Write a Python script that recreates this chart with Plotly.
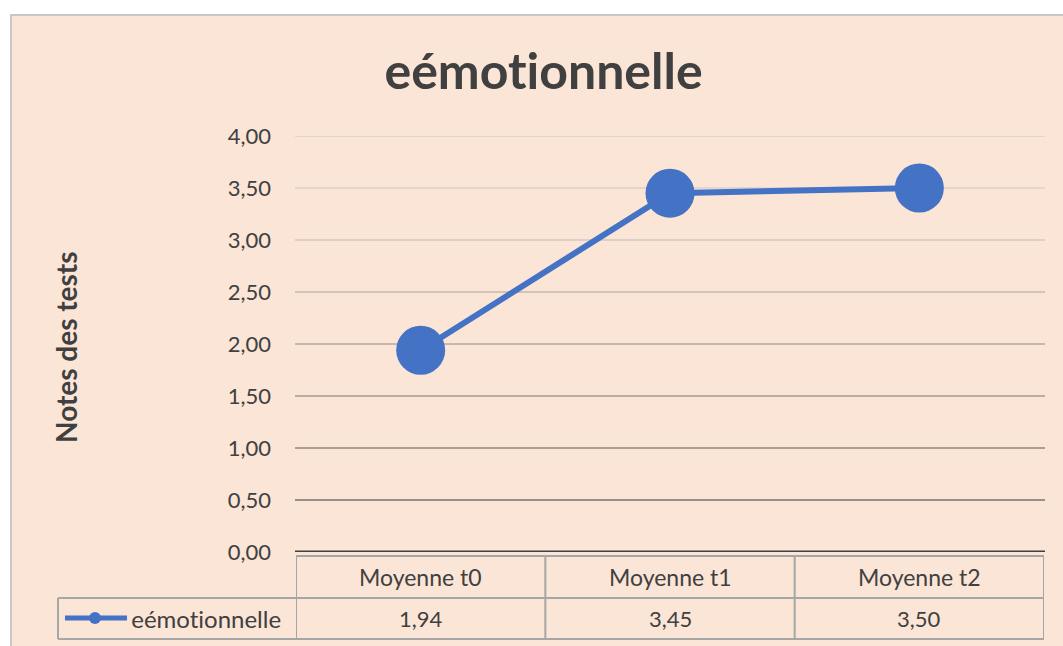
import plotly.graph_objects as go

# data
categories = ["Moyenne t0", "Moyenne t1", "Moyenne t2"]
values = [1.94, 3.45, 3.50]
series_name = "eémotionnelle"
y_ticks = [0.0, 0.5, 1.0, 1.5, 2.0, 2.5, 3.0, 3.5, 4.0]

W, H = 1063, 646
BLUE = "#4472C4"
PEACH = "#FBE5D6"
TXT = "#404040"
TABLE = "#A6A6A6"
FONT = "Lato"

# gridline shades (lighter towards the top, as in the picture)
grid_colors = ["#404040", "#9A8F88", "#AA9E96", "#BAADA3", "#C8B8AD",
               "#D3C3B9", "#DDCFC6", "#E2D6CE", "#E2D6CE"]


def px(x):
    return x / W


def py(y):
    return 1 - y / H


fig = go.Figure()
fig.add_trace(go.Scatter(
    x=categories, y=values, mode="lines+markers", name=series_name,
    line=dict(color=BLUE, width=6),
    marker=dict(color=BLUE, size=49),
    showlegend=False,
))

shapes = []
# chart area background + border
shapes.append(dict(type="rect", xref="paper", yref="paper", layer="below",
                   x0=px(11), x1=1.02, y0=-0.02, y1=py(15),
                   fillcolor=PEACH, line=dict(color="#C8C8C8", width=2)))
# gridlines
for v, c in zip(y_ticks[1:], grid_colors[1:]):
    shapes.append(dict(type="line", xref="paper", yref="y", layer="below",
                       x0=px(295), x1=px(1045), y0=v, y1=v,
                       line=dict(color=c, width=2)))

# data table
n = len(categories)
shapes.append(dict(type="line", xref="x", yref="paper", x0=-0.5, x1=n - 0.5,
                   y0=py(556), y1=py(556), line=dict(color=TABLE, width=2)))
for yy in (598, 639):
    shapes.append(dict(type="line", xref="paper", yref="paper", x0=px(58), x1=px(1044),
                       y0=py(yy), y1=py(yy), line=dict(color=TABLE, width=2)))
for i in range(n + 1):
    shapes.append(dict(type="line", xref="x", yref="paper", x0=i - 0.5, x1=i - 0.5,
                       y0=py(556), y1=py(639), line=dict(color=TABLE, width=2)))
shapes.append(dict(type="line", xref="paper", yref="paper", x0=px(58), x1=px(58),
                   y0=py(598), y1=py(639), line=dict(color=TABLE, width=2)))
# x axis line
shapes.append(dict(type="line", xref="paper", yref="y", x0=px(295), x1=px(1045),
                   y0=0, y1=0, line=dict(color=TXT, width=3)))
# legend key in the table
shapes.append(dict(type="line", xref="paper", yref="paper", x0=px(65), x1=px(127),
                   y0=py(618), y1=py(618), line=dict(color=BLUE, width=5)))
shapes.append(dict(type="circle", xref="paper", yref="paper", x0=px(89), x1=px(101),
                   y0=py(624), y1=py(612), fillcolor=BLUE, line=dict(width=0)))

annotations = [
    dict(text="<b>eémotionnelle</b>", xref="paper", yref="paper", x=px(543), y=py(70),
         showarrow=False, font=dict(family=FONT, size=50, color=TXT),
         xanchor="center", yanchor="middle"),
    dict(text="<b>Notes des tests</b>", xref="paper", yref="paper", x=px(66), y=py(347),
         showarrow=False, textangle=-90, font=dict(family=FONT, size=28, color=TXT),
         xanchor="center", yanchor="middle"),
    dict(text=series_name, xref="paper", yref="paper", x=px(129), y=py(618),
         showarrow=False, font=dict(family=FONT, size=24, color=TXT),
         xanchor="left", yanchor="middle"),
]
for c, v in zip(categories, values):
    annotations.append(dict(text=c, xref="x", yref="paper", x=c, y=py(577),
                            showarrow=False, font=dict(family=FONT, size=23, color=TXT),
                            xanchor="center", yanchor="middle"))
    annotations.append(dict(text=f"{v:.2f}".replace(".", ","), xref="x", yref="paper",
                            x=c, y=py(618), showarrow=False,
                            font=dict(family=FONT, size=22, color=TXT),
                            xanchor="center", yanchor="middle"))

fig.update_layout(
    template="none",
    width=W, height=H,
    margin=dict(l=0, r=0, t=0, b=0),
    paper_bgcolor="white",
    plot_bgcolor="rgba(0,0,0,0)",
    separators=", ",
    font=dict(family=FONT, color=TXT),
    shapes=shapes,
    annotations=annotations,
    xaxis=dict(domain=[px(296), px(1044)], range=[-0.5, n - 0.5], type="category",
               showticklabels=False, showgrid=False, zeroline=False, showline=False,
               ticks="", automargin=False),
    yaxis=dict(domain=[py(552), py(136)], range=[0, 4], tickvals=y_ticks,
               tickformat=".2f", showgrid=False, zeroline=False, showline=False,
               ticks="", ticklabelstandoff=24, automargin=False,
               tickfont=dict(family=FONT, size=22, color=TXT)),
)

# the page body has a default 8px margin; drop it so the figure sits at the corner,
# and switch off Lato's "ti" ligature (the original font has none)
post = ("document.body.style.margin='0';"
        "var s=document.createElement('style');"
        "s.textContent='text{font-variant-ligatures:none;font-feature-settings:\"liga\" 0;}';"
        "document.head.appendChild(s);")
fig.write_html("out.html", post_script=post, config={"displayModeBar": False})
